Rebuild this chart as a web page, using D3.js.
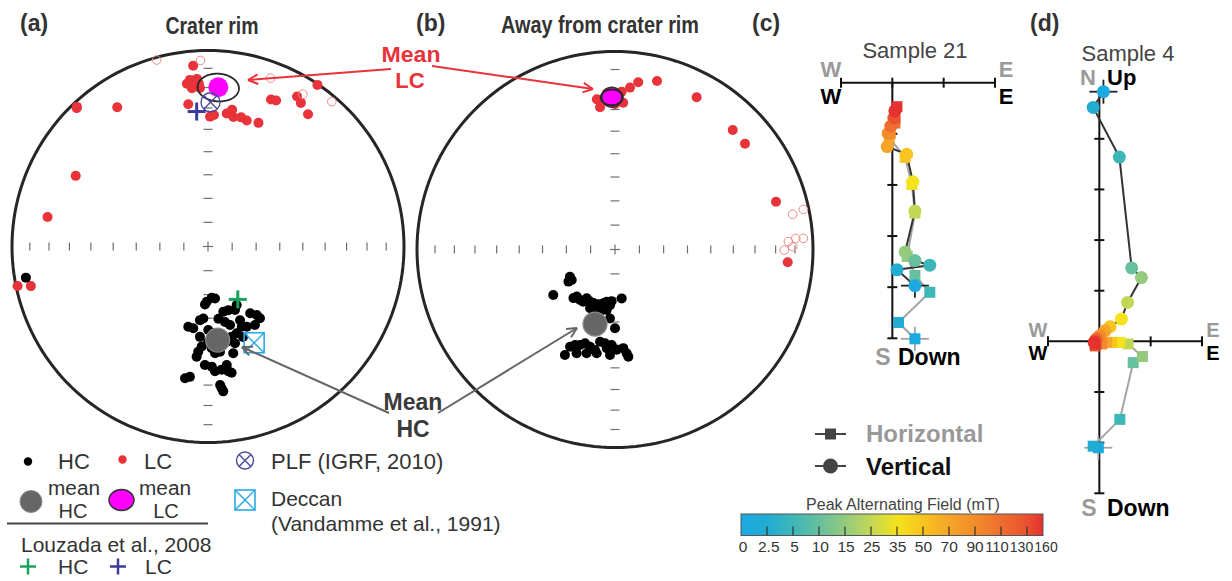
<!DOCTYPE html>
<html><head><meta charset="utf-8">
<script src="https://cdn.jsdelivr.net/npm/d3@7"></script>
<style>
body{margin:0;background:#fff;}
svg{display:block;font-family:"Liberation Sans",Arial,sans-serif;}
</style></head><body>
<svg id="fig" width="1232" height="581"></svg>
<script>
// ---------- Directions (declination, inclination in degrees) ----------
// Crater rim: high-coercivity (HC) component
const rimHC = [[181.3,67.0],[172.3,68.2],[175.9,68.6],[183.0,65.8],[153.9,62.8],[166.8,62.0],[162.3,62.1],[157.0,61.2],[144.6,54.7],[144.1,52.7],[149.1,51.5],[183.7,59.8],[186.2,59.0],[193.8,55.3],[190.2,55.1],[171.8,59.5],[167.3,57.6],[164.3,55.8],[156.5,56.3],[157.2,53.4],[154.2,52.5],[179.8,54.9],[161.7,51.5],[165.3,50.7],[164.4,47.5],[185.3,45.2],[183.6,47.6],[185.9,42.9],[177.9,46.9],[176.2,44.6],[173.5,45.1],[166.7,43.4],[181.5,39.4],[178.2,38.6],[176.8,36.4],[173.7,36.9],[171.0,38.7],[170.8,35.8],[169.4,34.8],[189.9,32.3],[187.9,33.3],[175.0,29.8],[174.5,28.2],[174.0,26.6],[179.8,49.8],[168.9,49.0],[176.7,53.5],[185.1,51.8],[147.7,56.9],[158.9,49.0],[260.3,6.4]];
// Crater rim: low-coercivity (LC) component (negative inclination = upper hemisphere)
const rimLC = [[355.3,8.3],[353.8,15.6],[356.2,15.4],[354.2,19.9],[357.1,20.1],[352.6,17.4],[356.8,17.9],[352.1,27.6],[0.9,34.1],[2.6,33.3],[8.0,32.0],[10.0,29.9],[11.1,33.1],[14.4,32.5],[17.1,33.2],[22.2,32.4],[23.2,19.5],[25.0,18.9],[30.7,12.0],[32.9,13.8],[37.1,16.5],[34.1,0.5],[316.8,2.6],[316.5,3.0],[326.9,16.3],[298.1,24.5],[280.4,17.9],[258.3,0.9],[257.4,8.2],[344.6,-1.5],[357.7,-5.6],[20.4,-9.2],[31.9,-9.3],[40.5,-3.1]];
// Away from crater rim
const awayHC = [[238.8,68.3],[234.8,68.2],[235.4,66.7],[233.6,58.2],[220.5,63.6],[219.1,65.0],[214.7,64.7],[211.3,64.8],[210.1,66.8],[205.6,66.2],[202.0,66.2],[196.9,66.4],[192.3,67.3],[189.0,68.2],[185.1,67.0],[183.7,68.7],[172.2,69.7],[203.0,63.7],[198.3,63.8],[193.6,63.7],[187.8,64.8],[184.2,61.4],[180.0,57.3],[204.8,45.0],[202.7,46.6],[200.1,47.4],[197.7,48.8],[194.4,48.0],[191.3,47.1],[189.2,51.0],[186.1,50.6],[184.8,48.6],[182.0,50.1],[179.0,48.0],[175.2,48.6],[173.6,46.2],[205.4,40.7],[200.3,43.5],[195.3,44.8],[190.0,45.8],[182.7,45.7],[172.9,44.6]];
const awayLC = [[353.6,25.0],[354.0,28.6],[3.2,26.7],[2.4,21.3],[5.3,19.0],[7.9,15.8],[14.0,13.3],[28.2,13.8],[44.6,16.4],[50.9,16.5],[73.5,16.3],[94.2,13.6],[357.0,22.1],[353.1,24.6],[0.0,27.4],[78.8,-9.4],[78.0,-3.1],[87.4,-13.4],[86.5,-9.4],[86.6,-5.3],[90.2,-15.6],[89.1,-11.2]];
// Means [dec, inc, a95]
const rimMeanHC = [174.1, 50.3];
const rimMeanLC = [3.7, 19.7, 7.0];
const awayMeanHC = [195.0, 58.0];
const awayMeanLC = [358.8, 24.1, 3.8];
// Reference directions
const plfIGRF = [1.0, 27.3];
const louzadaHC = [150.6, 64.7];
const louzadaLC = [355.2, 31.5];
const deccanDir = [154.4, 44.7];
const netTickInc = [10,20,30,40,50,60,70,80];

// ---------- AF demagnetisation (one tick = 1 unit) ----------
const afSteps  = [0,2.5,5,10,15,25,35,50,70,90,110,130,160];
const afLabels = ["0","2.5","5","10","15","25","35","50","70","90","110","130","160"];
const afColors = ["#1ba9e1","#22acd2","#3db6b7","#66c09d","#93ca7e","#c3d757","#f3e21c","#f8c41f","#f6a528","#f28c2b","#ee6e2e","#ea512f","#e5312f"];
// Sample 21: horizontal [E, N] and vertical [E, Up]
const s21Horiz = [[0.44,-5.01],[0.12,-4.69],[0.73,-4.10],[0.44,-3.77],[0.29,-3.40],[0.44,-2.55],[0.38,-1.99],[0.25,-1.46],[-0.06,-1.08],[-0.04,-0.99],[0.05,-0.79],[0.05,-0.69],[0.09,-0.47]];
const s21Vert  = [[0.44,-3.97],[0.09,-3.66],[0.73,-3.57],[0.44,-3.48],[0.25,-3.31],[0.44,-2.51],[0.40,-1.94],[0.28,-1.40],[-0.10,-1.25],[-0.08,-0.99],[-0.03,-0.85],[0.03,-0.69],[0.05,-0.55]];
// Sample 4
const s4Horiz = [[-0.02,-2.10],[-0.12,-2.07],[0.40,-1.54],[0.66,-0.42],[0.84,-0.30],[0.56,-0.05],[0.40,-0.02],[0.24,-0.02],[0.14,-0.02],[0.05,-0.05],[-0.05,-0.05],[-0.08,-0.09],[-0.08,-0.05]];
const s4Vert  = [[0.08,4.93],[-0.12,4.62],[0.39,3.64],[0.63,1.45],[0.82,1.26],[0.55,0.77],[0.43,0.44],[0.21,0.29],[0.11,0.21],[0.01,0.11],[-0.05,0.05],[-0.08,0.01],[-0.10,-0.02]];

// ---------- drawing ----------
const svg = d3.select("#fig");
svg.append("rect").attr("width",1232).attr("height",581).attr("fill","#fff");
const RED = "#e8333a";

// lower-hemisphere equal-area (Schmidt) net
function makeNet(cx, cy, R){
  return d3.geoAzimuthalEqualArea().rotate([0,-90]).clipAngle(90)
    .scale(R/Math.SQRT2).translate([cx,cy]).precision(0.1);
}
const toGeo = d => [180 - d[0], Math.abs(d[1])];

function netFrame(g, proj){
  const path = d3.geoPath(proj);
  g.append("path").datum({type:"Sphere"}).attr("d",path)
    .attr("fill","none").attr("stroke","#262626").attr("stroke-width",3);
  const t = g.append("g").attr("stroke","#707070").attr("stroke-width",1.2);
  netTickInc.forEach(inc=>{
    [0,90,180,270].forEach(dec=>{
      const [x,y] = proj(toGeo([dec,inc]));
      if(dec % 180 === 0) t.append("line").attr("x1",x-4.5).attr("x2",x+4.5).attr("y1",y).attr("y2",y);
      else t.append("line").attr("x1",x).attr("x2",x).attr("y1",y-4).attr("y2",y+4);
    });
  });
  const [cx,cy] = proj([0,90]);
  t.append("line").attr("x1",cx-5).attr("x2",cx+5).attr("y1",cy).attr("y2",cy);
  t.append("line").attr("x1",cx).attr("x2",cx).attr("y1",cy-5).attr("y2",cy+5);
}

function dirDots(g, proj, data, color){
  g.selectAll(null).data(data).join("circle")
    .attr("cx",d=>proj(toGeo(d))[0]).attr("cy",d=>proj(toGeo(d))[1])
    .attr("r",d=>d[1]>=0?5:4.3)
    .attr("fill",d=>d[1]>=0?color:"none")
    .attr("stroke",d=>d[1]>=0?"none":"#ef8a8a").attr("stroke-width",1);
}

function meanSymbols(g, proj, mHC, mLC, lcR, outlined){
  const path = d3.geoPath(proj);
  const [lx,ly] = proj(toGeo(mLC));
  g.append("circle").attr("cx",lx).attr("cy",ly).attr("r",lcR).attr("fill","#ff00ff")
    .attr("stroke","#333").attr("stroke-width",outlined?1.5:0);
  g.append("path").datum(d3.geoCircle().center(toGeo(mLC)).radius(mLC[2])())
    .attr("d",path).attr("fill","none").attr("stroke","#262626").attr("stroke-width",1.8);
  const [hx,hy] = proj(toGeo(mHC));
  g.append("circle").attr("cx",hx).attr("cy",hy).attr("r",12).attr("fill","#666")
    .attr("stroke","#8a8a8a").attr("stroke-width",1.2);
}

function plusMark(g,x,y,s,color,w){
  g.append("line").attr("x1",x-s).attr("x2",x+s).attr("y1",y).attr("y2",y).attr("stroke",color).attr("stroke-width",w);
  g.append("line").attr("x1",x).attr("x2",x).attr("y1",y-s).attr("y2",y+s).attr("stroke",color).attr("stroke-width",w);
}
function otimes(g,x,y,r,color){
  g.append("circle").attr("cx",x).attr("cy",y).attr("r",r).attr("fill","none").attr("stroke",color).attr("stroke-width",1.4);
  const k=r*0.707;
  g.append("line").attr("x1",x-k).attr("y1",y-k).attr("x2",x+k).attr("y2",y+k).attr("stroke",color).attr("stroke-width",1.4);
  g.append("line").attr("x1",x-k).attr("y1",y+k).attr("x2",x+k).attr("y2",y-k).attr("stroke",color).attr("stroke-width",1.4);
}
function boxX(g,x,y,s,color){
  g.append("rect").attr("x",x-s).attr("y",y-s).attr("width",2*s).attr("height",2*s).attr("fill","none").attr("stroke",color).attr("stroke-width",1.6);
  g.append("line").attr("x1",x-s).attr("y1",y-s).attr("x2",x+s).attr("y2",y+s).attr("stroke",color).attr("stroke-width",1.4);
  g.append("line").attr("x1",x-s).attr("y1",y+s).attr("x2",x+s).attr("y2",y-s).attr("stroke",color).attr("stroke-width",1.4);
}
function arrow(g,x1,y1,x2,y2,color){
  g.append("line").attr("x1",x1).attr("y1",y1).attr("x2",x2).attr("y2",y2).attr("stroke",color).attr("stroke-width",2);
  const a=Math.atan2(y2-y1,x2-x1), L=11, sp=0.45;
  [a+Math.PI-sp,a+Math.PI+sp].forEach(b=>{
    g.append("line").attr("x1",x2).attr("y1",y2).attr("x2",x2+L*Math.cos(b)).attr("y2",y2+L*Math.sin(b))
      .attr("stroke",color).attr("stroke-width",2);
  });
}
function text(g,x,y,s,opt){
  const t=g.append("text").attr("x",x).attr("y",y).text(s)
    .attr("font-size",opt.size||20).attr("fill",opt.fill||"#333")
    .attr("font-weight",opt.bold?"bold":"normal").attr("text-anchor",opt.anchor||"start");
  if(opt.len) t.attr("textLength",opt.len).attr("lengthAdjust","spacingAndGlyphs");
  return t;
}

// ---- panel (a) ----
const projA = makeNet(208, 246.5, 196);
const gA = svg.append("g");
netFrame(gA, projA);
dirDots(gA, projA, rimLC, RED);
dirDots(gA, projA, rimHC, "#000");
meanSymbols(gA, projA, rimMeanHC, rimMeanLC, 10, false);
{
  const [px,py]=projA(toGeo(plfIGRF)); otimes(gA,px,py,9.5,"#4b4b9c");
  const [ux,uy]=projA(toGeo(louzadaLC)); plusMark(gA,ux,uy,9,"#3b3b9a",3);
  const [gx,gy]=projA(toGeo(louzadaHC)); plusMark(gA,gx,gy,9,"#17a35a",3);
  const [dx,dy]=projA(toGeo(deccanDir)); boxX(gA,dx,dy,10,"#2aaae2");
}

// ---- panel (b) ----
const projB = makeNet(615, 249.5, 198);
const gB = svg.append("g");
netFrame(gB, projB);
dirDots(gB, projB, awayLC, RED);
dirDots(gB, projB, awayHC, "#000");
meanSymbols(gB, projB, awayMeanHC, awayMeanLC, 10, true);

// titles
text(svg,20,31,"(a)",{size:23,bold:true,fill:"#333"});
text(svg,212,34,"Crater rim",{size:24,bold:true,fill:"#333",anchor:"middle",len:93});
text(svg,416,31,"(b)",{size:23,bold:true,fill:"#333"});
text(svg,600,33,"Away from crater rim",{size:24,bold:true,fill:"#333",anchor:"middle",len:198});
text(svg,752,31,"(c)",{size:23,bold:true,fill:"#333"});
text(svg,1030,31,"(d)",{size:23,bold:true,fill:"#333"});

// annotations
const gAn = svg.append("g");
text(gAn,411,62,"Mean",{size:22,bold:true,fill:RED,anchor:"middle",len:59});
text(gAn,410,88,"LC",{size:22,bold:true,fill:RED,anchor:"middle"});
arrow(gAn,391,69,248,80,RED);
arrow(gAn,432,66,593,89,RED);
text(gAn,413,410,"Mean",{size:23,bold:true,fill:"#3a3a3a",anchor:"middle"});
text(gAn,413,437,"HC",{size:23,bold:true,fill:"#3a3a3a",anchor:"middle"});
arrow(gAn,389,413,242,347,"#666");
arrow(gAn,438,413,577,328,"#666");

// legend for (a)/(b)
const gL = svg.append("g");
gL.append("circle").attr("cx",28).attr("cy",461.5).attr("r",4.2).attr("fill","#000");
text(gL,58,468.5,"HC",{size:22});
gL.append("circle").attr("cx",122.5).attr("cy",459.5).attr("r",4.2).attr("fill",RED);
text(gL,144,468.5,"LC",{size:22});
otimes(gL,245,460.5,8.5,"#4b4b9c");
text(gL,271,468.5,"PLF (IGRF, 2010)",{size:22});
gL.append("circle").attr("cx",31).attr("cy",501.5).attr("r",11).attr("fill","#666").attr("stroke","#8a8a8a");
text(gL,74,495,"mean",{size:20,anchor:"middle",len:52});
text(gL,73,518,"HC",{size:20,anchor:"middle"});
gL.append("ellipse").attr("cx",121.5).attr("cy",500).attr("rx",12.5).attr("ry",10.5).attr("fill","#ff00ff").attr("stroke","#333").attr("stroke-width",1.5);
text(gL,165,495,"mean",{size:20,anchor:"middle",len:52});
text(gL,166,518,"LC",{size:20,anchor:"middle"});
boxX(gL,245,500,10,"#2aaae2");
text(gL,271,506,"Deccan",{size:21});
text(gL,271,530.5,"(Vandamme et al., 1991)",{size:21});
gL.append("line").attr("x1",7).attr("x2",208).attr("y1",523.5).attr("y2",523.5).attr("stroke","#444").attr("stroke-width",2);
text(gL,21,551.5,"Louzada et al., 2008",{size:21});
plusMark(gL,28,566.5,8,"#17a35a",2.5);
text(gL,58,574,"HC",{size:21});
plusMark(gL,118,566.5,8,"#3b3b9a",2.5);
text(gL,145,574,"LC",{size:21});

// ---- orthogonal vector plots ----
function drawZij(g, xs, ys, horiz, vert, xTicks, yTicks){
  const x0 = xs(0), y0 = ys(0);
  const [xa,xb] = xs.domain(), [ya,yb] = ys.domain();
  const ax = g.append("g").attr("stroke","#111").attr("stroke-width",2);
  ax.append("line").attr("x1",xs(xa)).attr("x2",xs(xb)).attr("y1",y0).attr("y2",y0);
  ax.append("line").attr("x1",x0).attr("x2",x0).attr("y1",ys(ya)).attr("y2",ys(yb));
  xTicks.forEach(v=>ax.append("line").attr("x1",xs(v)).attr("x2",xs(v)).attr("y1",y0-5).attr("y2",y0+5));
  yTicks.forEach(v=>ax.append("line").attr("x1",x0-5).attr("x2",x0+5).attr("y1",ys(v)).attr("y2",ys(v)));
  const line = d3.line().x(d=>xs(d[0])).y(d=>ys(d[1]));
  g.append("path").datum(horiz).attr("d",line).attr("fill","none").attr("stroke","#a3a3a3").attr("stroke-width",2);
  g.append("path").datum(vert).attr("d",line).attr("fill","none").attr("stroke","#333").attr("stroke-width",2);
  // NRM crosses
  const hx=xs(horiz[0][0]), hy=ys(horiz[0][1]), vx=xs(vert[0][0]), vy=ys(vert[0][1]);
  [[hx,hy,"#a3a3a3"],[vx,vy,"#222"]].forEach(([x,y,c])=>{
    g.append("line").attr("x1",x-14).attr("x2",x+14).attr("y1",y).attr("y2",y).attr("stroke",c).attr("stroke-width",1.8);
    g.append("line").attr("x1",x).attr("x2",x).attr("y1",y-12).attr("y2",y+12).attr("stroke",c).attr("stroke-width",1.8);
  });
  g.selectAll(null).data(horiz).join("rect")
    .attr("x",d=>xs(d[0])-5.5).attr("y",d=>ys(d[1])-5.5).attr("width",11).attr("height",11)
    .attr("fill",(d,i)=>afColors[i]);
  g.selectAll(null).data(vert).join("circle")
    .attr("cx",d=>xs(d[0])).attr("cy",d=>ys(d[1])).attr("r",6.5)
    .attr("fill",(d,i)=>afColors[i]);
}
const GREY = "#9a9a9a";

// (c) Sample 21
const xC = d3.scaleLinear().domain([-1,2]).range([841,995]);
const yC = d3.scaleLinear().domain([0,-5]).range([82.7,338.3]);
const gC = svg.append("g");
drawZij(gC, xC, yC, s21Horiz, s21Vert, [-1,0,1,2], [-1,-2,-3,-4,-5]);
text(gC,915,58,"Sample 21",{size:22,fill:"#444",anchor:"middle"});
text(gC,831,77,"W",{size:22,bold:true,fill:GREY,anchor:"middle"});
text(gC,831,103.5,"W",{size:22,bold:true,fill:"#000",anchor:"middle"});
text(gC,1006,77,"E",{size:22,bold:true,fill:GREY,anchor:"middle"});
text(gC,1006,103.5,"E",{size:22,bold:true,fill:"#000",anchor:"middle"});
text(gC,883,365,"S",{size:23,bold:true,fill:GREY,anchor:"middle"});
text(gC,898,365,"Down",{size:23,bold:true,fill:"#000"});

// (d) Sample 4
const xD = d3.scaleLinear().domain([-1,2]).range([1048,1202]);
const yD = d3.scaleLinear().domain([4.93,-3]).range([91.7,493.3]);
const gD = svg.append("g");
drawZij(gD, xD, yD, s4Horiz, s4Vert, [-1,1,2], [4,3,2,1,-1,-2,-3]);
text(gD,1128,61,"Sample 4",{size:22,fill:"#444",anchor:"middle"});
text(gD,1088,85,"N",{size:22,bold:true,fill:GREY,anchor:"middle"});
text(gD,1107,85,"Up",{size:22,bold:true,fill:"#000"});
text(gD,1038,337,"W",{size:20,bold:true,fill:GREY,anchor:"middle"});
text(gD,1038,360,"W",{size:20,bold:true,fill:"#000",anchor:"middle"});
text(gD,1213,337,"E",{size:20,bold:true,fill:GREY,anchor:"middle"});
text(gD,1213,360,"E",{size:20,bold:true,fill:"#000",anchor:"middle"});
text(gD,1089,516,"S",{size:23,bold:true,fill:GREY,anchor:"middle"});
text(gD,1107,516,"Down",{size:23,bold:true,fill:"#000"});

// legend for vector plots
const gV = svg.append("g");
gV.append("line").attr("x1",815).attr("x2",846).attr("y1",434).attr("y2",434).attr("stroke","#444").attr("stroke-width",2);
gV.append("rect").attr("x",825).attr("y",428.5).attr("width",11).attr("height",11).attr("fill","#444");
text(gV,866,442,"Horizontal",{size:24,bold:true,fill:"#999"});
gV.append("line").attr("x1",815).attr("x2",846).attr("y1",466).attr("y2",466).attr("stroke","#444").attr("stroke-width",2);
gV.append("circle").attr("cx",830.5).attr("cy",466).attr("r",7.5).attr("fill","#444");
text(gV,866,475,"Vertical",{size:24,bold:true,fill:"#111"});

// colour bar
const cbX0 = 741, cbW = 302, cbY = 514, cbH = 21.5;
const cbPos = d3.scaleLinear().domain([0,11,12]).range([cbX0, cbX0+286, cbX0+cbW]);
const grad = svg.append("defs").append("linearGradient").attr("id","afgrad");
afColors.forEach((c,i)=>grad.append("stop").attr("offset",(cbPos(i)-cbX0)/cbW).attr("stop-color",c));
svg.append("rect").attr("x",cbX0).attr("y",cbY).attr("width",cbW).attr("height",cbH)
  .attr("fill","url(#afgrad)").attr("stroke","#555").attr("stroke-width",1);
afSteps.forEach((s,i)=>{
  if(i>0 && i<12) svg.append("line").attr("x1",cbPos(i)).attr("x2",cbPos(i)).attr("y1",cbY+cbH-9).attr("y2",cbY+cbH).attr("stroke","#333").attr("stroke-width",1.2);
});
// label slots: regular spacing, the three widest labels packed at the right end
const labelX = d3.scaleLinear().domain([0,9]).range([cbX0+2, cbX0+234]);
afLabels.forEach((l,i)=>{
  const x = i<10 ? labelX(i) : [997,1021.5,1046][i-10];
  text(svg,x,551.5,l,{size:15.5,fill:"#333",anchor:"middle",len:i<10?null:23.5});
});
text(svg,903,510,"Peak Alternating Field (mT)",{size:16,fill:"#444",anchor:"middle"});
</script>
</body></html>
